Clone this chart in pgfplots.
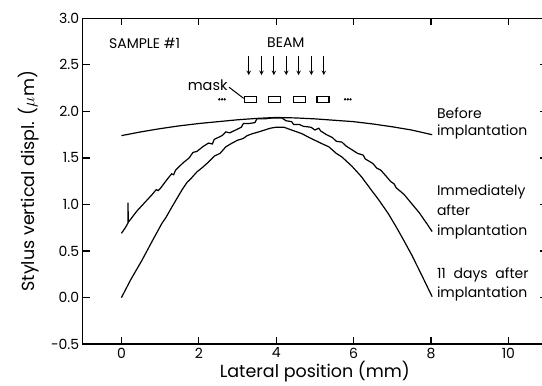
\documentclass[border=0pt]{standalone}
\usepackage{fontspec}
\setmainfont{Poppins}
\usepackage{pgfplots}
\pgfplotsset{compat=1.18}
\pgfplotstableread{
x y
0.00 1.74
0.50 1.78
1.00 1.815
1.50 1.845
2.00 1.87
2.50 1.89
3.00 1.91
3.50 1.925
4.00 1.935
4.50 1.93
5.00 1.92
5.50 1.905
6.00 1.89
6.50 1.865
7.00 1.835
7.50 1.80
8.03 1.75
}\tblbefore
\pgfplotstableread{
x y
0.00 0.69
0.10 0.75
0.17 0.80
0.17 1.02
0.18 0.81
0.40 0.93
0.60 1.02
0.80 1.11
0.90 1.16
0.95 1.15
1.00 1.17
1.20 1.28
1.30 1.33
1.35 1.32
1.40 1.37
1.60 1.45
1.75 1.50
1.85 1.56
1.95 1.57
2.10 1.62
2.25 1.66
2.35 1.65
2.40 1.70
2.60 1.74
2.70 1.78
2.80 1.77
2.95 1.80
3.10 1.83
3.15 1.87
3.30 1.87
3.45 1.88
3.50 1.92
3.70 1.92
3.90 1.93
4.15 1.93
4.25 1.90
4.40 1.89
4.45 1.86
4.60 1.86
4.70 1.84
4.90 1.83
5.00 1.80
5.10 1.82
5.15 1.79
5.30 1.75
5.45 1.72
5.55 1.68
5.70 1.67
5.80 1.63
5.95 1.59
6.10 1.55
6.25 1.53
6.30 1.49
6.50 1.44
6.60 1.39
6.70 1.37
6.85 1.30
6.95 1.25
7.05 1.22
7.10 1.18
7.30 1.11
7.50 1.01
7.70 0.91
7.90 0.79
8.03 0.71
}\tblimmed
\pgfplotstableread{
x y
0.00 0.00
0.25 0.20
0.53 0.40
0.80 0.61
1.05 0.80
1.15 0.86
1.30 0.97
1.57 1.16
1.70 1.24
1.80 1.28
1.95 1.35
2.10 1.40
2.26 1.46
2.40 1.52
2.55 1.55
2.70 1.62
2.86 1.66
3.00 1.69
3.15 1.71
3.25 1.74
3.38 1.76
3.55 1.78
3.70 1.80
3.85 1.82
4.00 1.83
4.20 1.83
4.40 1.80
4.67 1.76
4.85 1.72
5.00 1.69
5.20 1.65
5.36 1.62
5.55 1.55
5.70 1.51
5.96 1.41
6.20 1.30
6.45 1.16
6.65 1.05
6.90 0.90
7.10 0.76
7.25 0.65
7.50 0.46
7.75 0.25
8.03 0.01
}\tbleleven
\begin{document}
\begin{tikzpicture}
\useasboundingbox (-82.7pt,-41.7pt) rectangle (459.3pt,344.2pt);
\clip (-82.7pt,-41.7pt) rectangle (459.3pt,344.2pt);
\begin{axis}[at={(0,0)}, anchor=south west, scale only axis,
  width=464.4pt, height=325.9pt,
  xmin=-1, xmax=11, ymin=-0.5, ymax=3,
  xtick={0,2,4,6,8,10},
  ytick={-0.5,0,0.5,1,1.5,2,2.5,3},
  yticklabels={−0.5,0.0,0.5,1.0,1.5,2.0,2.5,3.0},
  tick align=inside, major tick length=7pt,
  axis line style={line width=1.4pt},
  tick style={line width=1.2pt, black},
  /pgf/number format/assume math mode=true,
  tick label style={font=\fontsize{14}{16}\selectfont},
  label style={font=\fontsize{17.5}{20}\selectfont},
  xlabel={Lateral position (mm)},
  xlabel style={yshift=4pt},
  ylabel={Stylus vertical displ. ($\mu$m)},
  ylabel style={at={(axis description cs:-0.1167,0.5)}, anchor=center},
  every axis plot/.append style={black, line width=1.2pt},
]
\addplot[no marks] table {\tblbefore};
\addplot[no marks] table {\tblimmed};
\addplot[no marks] table {\tbleleven};
% beam arrows
\addplot[quiver={u=0, v=-0.20}, -stealth, line width=1pt, no marks] coordinates {
(3.29,2.59) (3.62,2.59) (3.94,2.59) (4.26,2.59) (4.58,2.59) (4.91,2.59) (5.23,2.59)};
% mask
\addplot[only marks, mark=square, mark size=3pt, mark options={xscale=2, line width=1.4pt}]
 coordinates {(3.33,2.125) (3.96,2.125) (4.60,2.125) (5.21,2.125)};
\addplot[only marks, mark=*, mark size=0.45pt]
 coordinates {(2.53,2.13) (2.60,2.13) (2.67,2.13) (5.78,2.13) (5.85,2.13) (5.92,2.13)};
\addplot[no marks, line width=1pt] coordinates {(2.78,2.26) (3.16,2.14)};
\node[font=\fontsize{14}{16}\selectfont] at (axis cs:0.6,2.727) {SAMPLE \#1};
\node[font=\fontsize{14}{16}\selectfont] at (axis cs:4.25,2.74) {BEAM};
\node[font=\fontsize{14.5}{16}\selectfont] at (axis cs:2.23,2.28) {mask};
\tikzset{lab/.style={anchor=base west, inner sep=0pt, font=\fontsize{14}{16}\selectfont}}
\node[lab] at (axis cs:8.15,1.929) {Before};
\node[lab] at (axis cs:8.15,1.740) {implantation};
\node[lab] at (axis cs:8.15,1.102) {Immediately};
\node[lab] at (axis cs:8.15,0.881) {after};
\node[lab] at (axis cs:8.15,0.666) {implantation};
\node[lab] at (axis cs:8.15,0.207) {11\hspace{0.55em}days\hspace{0.55em}after};
\node[lab] at (axis cs:8.15,0.004) {implantation};
\end{axis}
\end{tikzpicture}
\end{document}
